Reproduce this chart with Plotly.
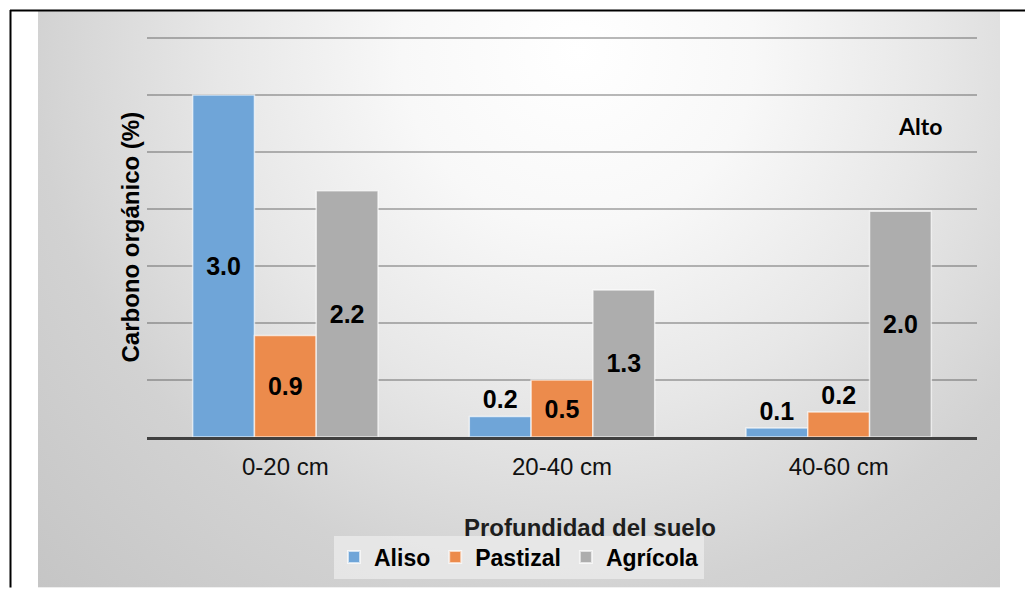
import base64
import plotly.graph_objects as go

# ---- data ----
categories = ["0-20 cm", "20-40 cm", "40-60 cm"]
aliso = [3.0, 0.18, 0.08]
pastizal = [0.89, 0.5, 0.22]
agricola = [2.16, 1.29, 1.98]
series_names = ["Aliso", "Pastizal", "Agrícola"]

# ---- geometry ----
W, H = 1025, 589
L, R, T, B = 147, 48, 36, 151
PW, PH = W - L - R, H - T - B
UNIT = 400 / 3.5  # pixels per unit (gridline spacing 0.5)
YMAX = PH / UNIT


def px2x(px):
    return (px - L) / PW


def py2y(py):
    return (H - B - py) / PH


FONT = "Arial, Liberation Sans, sans-serif"

colors = ["#6fa5d8", "#ec8b4c", "#adadad"]
positions = [
    ["inside", "outside", "outside"],
    ["inside", "inside", "outside"],
    ["inside", "inside", "inside"],
]

fig = go.Figure()
for name, vals, col, pos in zip(series_names, [aliso, pastizal, agricola], colors, positions):
    fig.add_trace(go.Bar(
        name=name, x=categories, y=vals,
        marker=dict(color=col, line=dict(color="rgba(255,255,255,0.65)", width=1.5)),
        texttemplate="%{y:.1f}", textposition=pos, insidetextanchor="middle",
        textfont=dict(family=FONT, size=25, color="black", weight="bold"),
        constraintext="none", cliponaxis=False,
    ))

# background radial gradient panel
svg = (
    '<svg xmlns="http://www.w3.org/2000/svg" width="962" height="578" viewBox="0 0 962 578" '
    'preserveAspectRatio="none"><defs><radialGradient id="g" gradientUnits="userSpaceOnUse" '
    'cx="540" cy="40" r="800">'
    '<stop offset="0" stop-color="#ffffff"/>'
    '<stop offset="0.22" stop-color="#f8f8f8"/>'
    '<stop offset="0.45" stop-color="#e7e7e7"/>'
    '<stop offset="0.68" stop-color="#d2d2d2"/>'
    '<stop offset="1" stop-color="#c3c3c3"/>'
    '</radialGradient></defs><rect width="962" height="578" fill="url(#g)"/></svg>'
)
src = "data:image/svg+xml;base64," + base64.b64encode(svg.encode()).decode()

fig.update_layout(
    width=W, height=H,
    margin=dict(l=L, r=R, t=T, b=B),
    paper_bgcolor="white", plot_bgcolor="rgba(0,0,0,0)",
    barmode="group", bargap=0.33, bargroupgap=0,
    font=dict(family=FONT, color="black"),
    images=[dict(source=src, xref="paper", yref="paper",
                 x=px2x(38), y=py2y(11), sizex=962 / PW, sizey=578 / PH,
                 xanchor="left", yanchor="top", sizing="stretch", layer="below")],
    xaxis=dict(showgrid=False, showline=True, linecolor="#404040", linewidth=3,
               tickfont=dict(family=FONT, size=24, color="#111"),
               ticks="", ticklabelstandoff=6),
    yaxis=dict(range=[0, YMAX], tick0=0, dtick=0.5, showticklabels=False, zeroline=False,
               showgrid=True, gridcolor="rgba(70,70,70,0.38)", gridwidth=1.6),
    legend=dict(orientation="h", x=px2x(519), y=py2y(557), xanchor="center", yanchor="middle",
                bgcolor="rgba(236,236,236,0.75)",
                font=dict(family=FONT, size=23, color="black", weight="bold"),
                itemsizing="constant", tracegroupgap=0),
    showlegend=True,
    shapes=[
        dict(type="line", xref="paper", yref="paper", x0=px2x(10), x1=px2x(1025),
             y0=py2y(10.5), y1=py2y(10.5), line=dict(color="black", width=2)),
        dict(type="line", xref="paper", yref="paper", x0=px2x(10.5), x1=px2x(10.5),
             y0=py2y(10), y1=py2y(589), line=dict(color="black", width=2)),
    ],
    annotations=[
        dict(text="Carbono orgánico (%)", xref="paper", yref="paper", x=px2x(130), y=py2y(238),
             textangle=-90, showarrow=False, xanchor="center", yanchor="middle",
             font=dict(family=FONT, size=24, color="black", weight="bold")),
        dict(text="Profundidad del suelo", xref="paper", yref="paper", x=px2x(590), y=py2y(529),
             showarrow=False, xanchor="center", yanchor="middle",
             font=dict(family=FONT, size=24, color="#1e1e1e", weight="bold")),
        dict(text="Alto", xref="paper", yref="paper", x=px2x(920), y=py2y(126),
             showarrow=False, xanchor="center", yanchor="middle",
             font=dict(family="Lato, Open Sans, sans-serif", size=23, color="black", weight="bold")),
    ],
)

fig.write_html("out.html", config={"displayModeBar": False},
               post_script="document.body.style.margin='0';")
